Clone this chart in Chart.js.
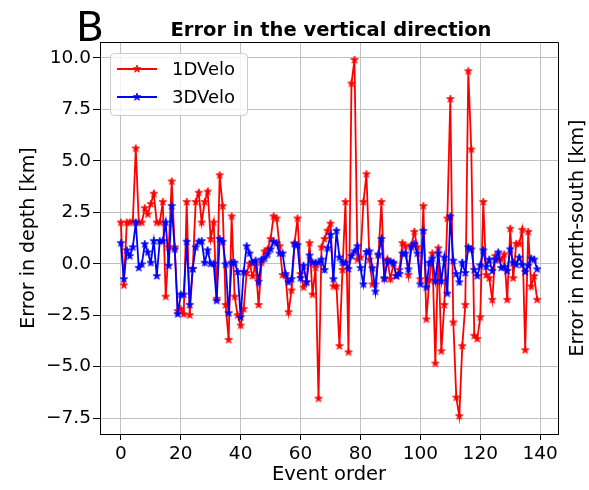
<!DOCTYPE html>
<html>
<head>
<meta charset="utf-8">
<script src="https://cdn.jsdelivr.net/npm/chart.js@4.4.1/dist/chart.umd.min.js"></script>
<style>
  body { margin: 0; background: #fff; }
  canvas { display: block; }
</style>
</head>
<body>
<canvas id="errChart" width="589" height="490"></canvas>
<script>
// depth error per event, km
var velo1D = [
  2.0, -1.05, 2.0, 2.0, 2.05, 5.6, 2.0, 2.0, 2.7, 2.4,
  2.9, 3.4, 2.0, 2.0, 3.0, -1.6, 0.8, 4.0, 0.8, -2.3,
  -2.2, -2.45, 3.0, -2.5, -0.25, 3.0, 3.45, 2.0, 3.0, 3.5,
  1.2, 2.0, -1.7, 4.3, 2.8, -2.0, -3.7, 2.3, -1.6, -2.5,
  -3.0, -2.2, -0.45, 0.0, -0.6, -0.1, -2.0, 0.05, 0.6, 0.7,
  1.2, 2.3, 2.2, 0.85, -0.55, -0.6, -2.35, -1.3, 1.0, 2.2,
  -0.5, -1.15, -0.9, 1.0, -1.5, -0.2, -6.55, 0.8, 1.2, 1.6,
  1.95, -1.1, -1.1, -4.0, -0.3, 3.0, -4.3, 8.75, 9.9, 0.2,
  0.3, 3.0, 4.35, 0.2, -1.0, -1.0, 0.4, 3.0, -0.75, 0.2,
  -0.75, 0.0, -0.6, -0.3, 1.0, 0.85, -0.55, 0.9, 1.55, 0.8,
  -0.75, 2.8, -2.7, -0.8, 0.5, -4.85, 0.75, -4.25, -2.0, 2.2,
  8.0, -2.85, -6.5, -7.4, -4.0, -2.0, 9.35, 5.55, -3.5, -3.65,
  -2.6, 3.0, -0.55, -0.7, -1.75, 0.37, 0.2, 0.2, 0.45, -1.75,
  1.7, -0.7, 0.97, 0.97, 1.65, -4.2, 1.55, -1.1, -0.6, -1.75
];
var velo3D = [
  1.0, -0.75, 0.65, 0.37, 0.8, 2.0, -0.2, -0.03, 0.95, 0.55,
  0.05, 1.1, -0.6, 1.1, 1.1, 2.0, -0.1, 2.8, 0.7, -2.45,
  -1.5, -1.5, 1.07, -2.0, -0.25, 0.8, 1.07, 1.1, 0.05, 0.65,
  0.0, 0.0, -1.8, 1.2, 1.07, -0.03, -2.4, 0.05, 0.05, -0.4,
  -2.6, -0.4, 0.85, 0.5, 0.05, 0.15, -0.87, 0.2, 0.25, 0.45,
  0.7, 1.07, 1.0, 0.5, 0.5, -0.5, -0.9, -0.75, 0.95, 0.9,
  -0.7, -0.1, -0.9, 0.4, 0.05, 0.05, 0.05, 0.2, -0.3, 0.75,
  1.4, -0.75, 1.6, 0.3, 0.05, 0.05, -0.25, 0.37, 0.6, 0.85,
  -0.2, -1.0, 0.57, 0.6, -0.22, -1.35, 0.45, 1.2, -0.7, 0.13,
  0.1, 0.05, -0.6, -0.5, 0.5, 0.5, -0.27, 0.8, 0.97, 0.5,
  -1.0, 1.6, -1.15, 0.05, 0.25, -0.85, 0.5, -0.85, 0.3, -1.45,
  2.3, 0.15, -0.5, -0.9, 0.05, -0.45, 0.8, 0.7, -0.3, -0.6,
  -0.08, 0.65, -0.15, 0.2, -0.35, 0.2, 0.55, -0.2, -0.15, -0.35,
  0.7, 0.05, -0.05, 0.3, -0.05, -0.4, -0.1, 0.25, 0.2, -0.27
];
var seriesNames = ['1DVelo', '3DVelo'];
var xTicks = [0, 20, 40, 60, 80, 100, 120, 140];
var yTicks = [-7.5, -5, -2.5, 0, 2.5, 5, 7.5, 10];

var FONT = 'DejaVu Sans';

// filled five-point star, like matplotlib's '*' marker
function starImage(color, r) {
  var size = Math.ceil(2 * r + 2);
  var c = document.createElement('canvas');
  c.width = size;
  c.height = size;
  var g = c.getContext('2d');
  var cx = size / 2, cy = size / 2;
  g.beginPath();
  for (var k = 0; k < 10; k++) {
    var rad = k % 2 === 0 ? r : r * 0.4;
    var a = -Math.PI / 2 + k * Math.PI / 5;
    var px = cx + rad * Math.cos(a), py = cy + rad * Math.sin(a);
    if (k === 0) g.moveTo(px, py); else g.lineTo(px, py);
  }
  g.closePath();
  g.fillStyle = color;
  g.fill();
  g.strokeStyle = color;
  g.lineWidth = 0.8;
  g.stroke();
  return c;
}

var redStar = starImage('#ff0000', 4);
var blueStar = starImage('#0000ff', 4);

function toPoints(arr) {
  return arr.map(function (v, i) { return { x: i, y: v }; });
}

function fmtY(v) {
  return (v < 0 ? '\u2212' : '') + Math.abs(v).toFixed(1);
}

// frame, title, panel letter, right-hand label and the inset legend
var decor = {
  id: 'decor',
  beforeDraw: function (chart) {
    var ctx = chart.ctx;
    ctx.save();
    ctx.fillStyle = '#fff';
    ctx.fillRect(0, 0, chart.width, chart.height);
    ctx.restore();
  },
  afterDraw: function (chart) {
    var ctx = chart.ctx;
    var a = chart.chartArea;
    ctx.save();

    ctx.strokeStyle = '#000';
    ctx.lineWidth = 1;
    ctx.beginPath();
    ctx.moveTo(a.left, a.top + 0.5);
    ctx.lineTo(a.right + 0.5, a.top + 0.5);
    ctx.lineTo(a.right + 0.5, a.bottom);
    ctx.stroke();

    ctx.fillStyle = '#000';
    ctx.textAlign = 'center';
    ctx.textBaseline = 'alphabetic';
    ctx.font = 'bold 19.5px "' + FONT + '"';
    ctx.fillText('Error in the vertical direction', (a.left + a.right) / 2 + 2, 36);

    ctx.textAlign = 'left';
    ctx.font = '41px "' + FONT + '"';
    ctx.fillText('B', 76, 41);

    ctx.save();
    ctx.translate(578, (a.top + a.bottom) / 2);
    ctx.rotate(-Math.PI / 2);
    ctx.textAlign = 'center';
    ctx.textBaseline = 'middle';
    ctx.font = '19px "' + FONT + '"';
    ctx.fillText('Error in north-south [km]', 0, 0);
    ctx.restore();

    // legend
    var bx = 110.5, by = 53.5, bw = 137, bh = 62;
    ctx.beginPath();
    ctx.roundRect(bx, by, bw, bh, 4);
    ctx.fillStyle = 'rgba(255,255,255,0.8)';
    ctx.fill();
    ctx.strokeStyle = '#cccccc';
    ctx.stroke();

    var rows = [
      { name: seriesNames[0], color: '#ff0000', star: redStar, y: 69 },
      { name: seriesNames[1], color: '#0000ff', star: blueStar, y: 97 }
    ];
    ctx.font = '18px "' + FONT + '"';
    ctx.textAlign = 'left';
    ctx.textBaseline = 'middle';
    rows.forEach(function (r) {
      ctx.strokeStyle = r.color;
      ctx.lineWidth = 1.8;
      ctx.beginPath();
      ctx.moveTo(117, r.y);
      ctx.lineTo(157, r.y);
      ctx.stroke();
      ctx.drawImage(r.star, 137 - r.star.width / 2, r.y - r.star.height / 2);
      ctx.fillStyle = '#000';
      ctx.fillText(r.name, 172, r.y + 1);
    });

    ctx.restore();
  }
};

var ctx = document.getElementById('errChart').getContext('2d');

var chart = new Chart(ctx, {
  type: 'line',
  data: {
    datasets: [{
      label: seriesNames[0],
      data: toPoints(velo1D),
      borderColor: '#ff0000',
      backgroundColor: '#ff0000',
      borderWidth: 1.8,
      pointStyle: redStar,
      pointRadius: 4,
      tension: 0,
      fill: false,
      order: 2
    }, {
      label: seriesNames[1],
      data: toPoints(velo3D),
      borderColor: '#0000ff',
      backgroundColor: '#0000ff',
      borderWidth: 1.8,
      pointStyle: blueStar,
      pointRadius: 4,
      tension: 0,
      fill: false,
      order: 1
    }]
  },
  options: {
    responsive: false,
    animation: false,
    devicePixelRatio: 1,
    layout: { padding: { top: 42, right: 31, left: 0, bottom: 0 } },
    plugins: {
      legend: { display: false },
      tooltip: { enabled: false },
      title: { display: false }
    },
    scales: {
      x: {
        type: 'linear',
        min: -6.95,
        max: 145.95,
        afterBuildTicks: function (s) {
          s.ticks = xTicks.map(function (v) { return { value: v }; });
        },
        afterFit: function (s) { s.height = 56; },
        grid: { color: '#c0c0c0', lineWidth: 1, tickColor: '#000', tickLength: 6 },
        border: { display: true, color: '#000', width: 1 },
        ticks: {
          color: '#000',
          font: { family: FONT, size: 18.5 },
          padding: 3,
          maxRotation: 0,
          autoSkip: false,
          callback: function (v) { return String(v); }
        },
        title: {
          display: true,
          text: 'Event order',
          color: '#000',
          font: { family: FONT, size: 19.5 },
          padding: { top: 0, bottom: 3 }
        }
      },
      y: {
        min: -8.27,
        max: 10.77,
        afterBuildTicks: function (s) {
          s.ticks = yTicks.map(function (v) { return { value: v }; });
        },
        afterFit: function (s) { s.width = 100; },
        grid: { color: '#c0c0c0', lineWidth: 1, tickColor: '#000', tickLength: 7 },
        border: { display: true, color: '#000', width: 1 },
        ticks: {
          color: '#000',
          font: { family: FONT, size: 18.5 },
          padding: 2,
          autoSkip: false,
          callback: function (v) { return fmtY(v); }
        },
        title: {
          display: true,
          text: 'Error in depth [km]',
          color: '#000',
          font: { family: FONT, size: 19 },
          padding: { top: 18, bottom: 0 }
        }
      }
    }
  },
  plugins: [decor]
});
</script>
</body>
</html>
